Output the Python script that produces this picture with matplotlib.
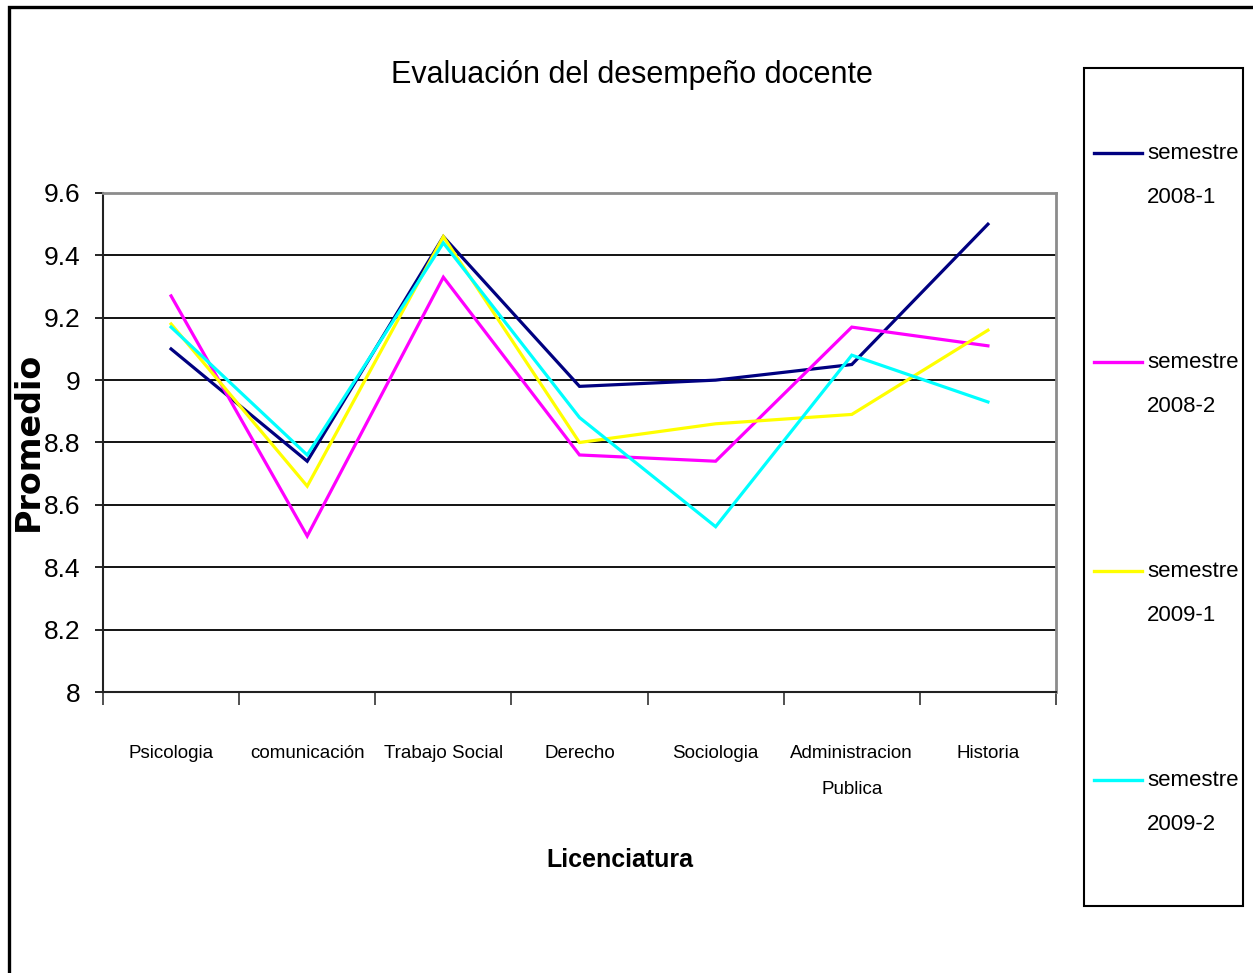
import matplotlib
matplotlib.use("Agg")
import matplotlib.pyplot as plt
from matplotlib import font_manager
from matplotlib.lines import Line2D
from matplotlib.patches import Rectangle

### Data: average teacher evaluation per degree and semester
licenciaturas = ['Psicologia', 'comunicación', 'Trabajo Social', 'Derecho',
                 'Sociologia', 'Administracion\nPublica', 'Historia']
sem_2008_1 = [9.10, 8.74, 9.46, 8.98, 9.00, 9.05, 9.50]
sem_2008_2 = [9.27, 8.50, 9.33, 8.76, 8.74, 9.17, 9.11]
sem_2009_1 = [9.18, 8.66, 9.46, 8.80, 8.86, 8.89, 9.16]
sem_2009_2 = [9.17, 8.76, 9.44, 8.88, 8.53, 9.08, 8.93]
series_names = ['semestre\n2008-1', 'semestre\n2008-2', 'semestre\n2009-1', 'semestre\n2009-2']
series_colors = ['#000080', '#FF00FF', '#FFFF00', '#00FFFF']
y_ticks = [8, 8.2, 8.4, 8.6, 8.8, 9, 9.2, 9.4, 9.6]
y_labels = ['8', '8.2', '8.4', '8.6', '8.8', '9', '9.2', '9.4', '9.6']

### Narrow font if available, Arial metrics otherwise
names = {f.name for f in font_manager.fontManager.ttflist}
narrow = 'Liberation Sans Narrow' in names
base = 'Liberation Sans Narrow' if narrow else 'Liberation Sans'
k = 1.15 if narrow else 1.0
plt.rcParams['font.family'] = [base, 'DejaVu Sans']

W, H = 1253, 973
fig = plt.figure(figsize=(W / 100, H / 100), dpi=100)
fig.patch.set_facecolor('white')

# outer frame (left and top edges visible)
fig.patches.append(Rectangle((8.5 / W, -0.1), 1.2, (H - 7.5) / H + 0.1, transform=fig.transFigure,
                             fill=False, edgecolor='black', linewidth=2.4, zorder=0))

ax = fig.add_axes([103 / W, 1 - 692 / H, (1056 - 103) / W, (692 - 193) / H])

x = list(range(len(licenciaturas)))
all_series = [sem_2008_1, sem_2008_2, sem_2009_1, sem_2009_2]
for vals, col in zip(all_series, series_colors):
    ax.plot(x, vals, color=col, linewidth=2.3, solid_joinstyle='miter', zorder=3)

ax.set_xlim(-0.5, len(licenciaturas) - 0.5)
ax.set_ylim(8, 9.6)
ax.set_yticks(y_ticks)
ax.set_yticklabels(y_labels)
ax.yaxis.grid(True, color='black', linewidth=1.3)
ax.set_axisbelow(True)

# tick marks on category boundaries, labels at category centres
ax.set_xticks([i - 0.5 for i in range(len(licenciaturas) + 1)])
ax.set_xticklabels([])
ax.set_xticks(x, minor=True)
ax.set_xticklabels(licenciaturas, minor=True, fontsize=13.5 * k, linespacing=2.45)
ax.tick_params(axis='x', which='major', direction='out', length=9, width=1.2, color='#333333')
ax.tick_params(axis='x', which='minor', length=0, pad=38)
ax.tick_params(axis='y', direction='out', length=6, width=1.2, pad=10, labelsize=19 * k)

for side in ['left', 'bottom']:
    ax.spines[side].set_color('#222222')
    ax.spines[side].set_linewidth(1.5)
for side in ['top', 'right']:
    ax.spines[side].set_color('#8c8c8c')
    ax.spines[side].set_linewidth(2.0)

fig.text(632 / W, 1 - 75 / H, 'Evaluación del desempeño docente', ha='center', va='center',
         fontsize=22 * k)
fig.text(620 / W, 1 - 860 / H, 'Licenciatura', ha='center', va='center',
         fontsize=18 * k, fontweight='bold')
fig.text(28 / W, 1 - 441 / H, 'Promedio', ha='center', va='center', rotation=90,
         fontsize=24, fontweight='bold', family='DejaVu Sans')

### Legend box on the right
fig.patches.append(Rectangle((1084 / W, 1 - 906 / H), (1243 - 1084) / W, (906 - 68) / H,
                             transform=fig.transFigure, fill=False, edgecolor='black',
                             linewidth=1.5))
for i, (name, col) in enumerate(zip(series_names, series_colors)):
    yl = 153 + i * 209
    fig.add_artist(Line2D([1094 / W, 1142 / W], [1 - yl / H, 1 - yl / H],
                          transform=fig.transFigure, color=col, linewidth=2.4))
    fig.text(1147 / W, 1 - (yl - 10) / H, name, ha='left', va='top', fontsize=16 * k,
             linespacing=2.45)

fig.savefig('out.png', dpi=100)
